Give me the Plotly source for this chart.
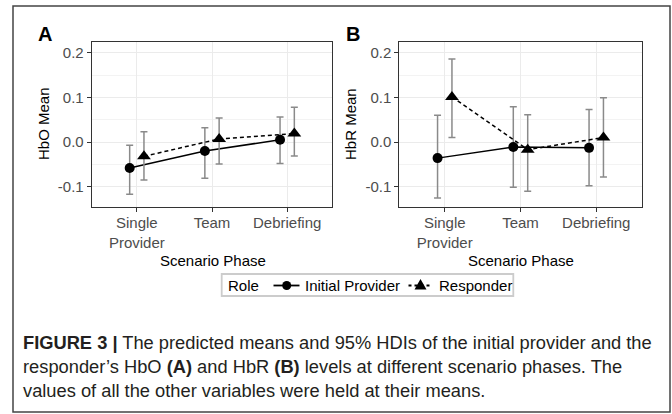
import plotly.graph_objects as go

# ---------------- data ----------------
phases = ["Single<br>Provider", "Team", "Debriefing"]
roles = ["Initial Provider", "Responder"]

hbo_initial = [-0.058, -0.020, 0.005]
hbo_initial_lo = [-0.117, -0.081, -0.048]
hbo_initial_hi = [-0.007, 0.032, 0.056]
hbo_resp = [-0.032, 0.007, 0.019]
hbo_resp_lo = [-0.085, -0.049, -0.031]
hbo_resp_hi = [0.023, 0.054, 0.078]

hbr_initial = [-0.036, -0.011, -0.013]
hbr_initial_lo = [-0.125, -0.101, -0.098]
hbr_initial_hi = [0.060, 0.079, 0.073]
hbr_resp = [0.101, -0.017, 0.010]
hbr_resp_lo = [0.010, -0.110, -0.078]
hbr_resp_hi = [0.186, 0.061, 0.099]

y_ticks = [-0.1, 0.0, 0.1, 0.2]
y_ticktext = ["-0.1", "0.0", "0.1", "0.2"]

# ---------------- layout helpers ----------------
W, H = 672, 414
def px(x):
    return x / W
def py(y):
    return 1 - y / H

FONT = "Liberation Sans, Arial, sans-serif"
CAPFONT = "Liberation Sans, Arial, sans-serif"
dodge = 0.095
base_x = list(range(1, len(phases) + 1))

fig = go.Figure()

def add_series(xaxis, yaxis, yvals, lo, hi, role_idx):
    off = -dodge if role_idx == 0 else dodge
    xs = [b + off for b in base_x]
    fig.add_trace(go.Scatter(
        x=xs, y=yvals, xaxis=xaxis, yaxis=yaxis,
        mode="lines+markers", name=roles[role_idx], showlegend=False,
        line=dict(color="black", width=1.5,
                  dash="solid" if role_idx == 0 else "4px,3px"),
        marker=dict(symbol="circle" if role_idx == 0 else "triangle-up",
                    size=10 if role_idx == 0 else 12, color="black"),
        error_y=dict(type="data", symmetric=False,
                     array=[h - v for h, v in zip(hi, yvals)],
                     arrayminus=[v - l for v, l in zip(yvals, lo)],
                     color="#8a8a8a", thickness=1.5, width=3.5),
    ))

add_series("x", "y", hbo_initial, hbo_initial_lo, hbo_initial_hi, 0)
add_series("x", "y", hbo_resp, hbo_resp_lo, hbo_resp_hi, 1)
add_series("x2", "y2", hbr_initial, hbr_initial_lo, hbr_initial_hi, 0)
add_series("x2", "y2", hbr_resp, hbr_resp_lo, hbr_resp_hi, 1)

yrange = [-0.1454, 0.2246]
ydom = [py(207), py(41.7)]

def xaxis_cfg(dom, anchor):
    return dict(domain=dom, anchor=anchor, range=[0.4, 3.6],
                tickvals=base_x, ticktext=phases,
                showgrid=True, gridcolor="#EBEBEB", gridwidth=1.1,
                showline=True, linecolor="#333333", linewidth=1, mirror=True,
                ticks="outside", ticklen=4, tickcolor="#333333", tickwidth=1,
                ticklabelstandoff=-2,
                tickfont=dict(family=FONT, size=15, color="#4D4D4D"),
                zeroline=False, fixedrange=True)

def yaxis_cfg(anchor):
    return dict(domain=ydom, anchor=anchor, range=yrange,
                tickvals=y_ticks, ticktext=y_ticktext,
                showgrid=True, gridcolor="#EBEBEB", gridwidth=1.1,
                minor=dict(tickvals=[-0.05, 0.05, 0.15], showgrid=True,
                           gridcolor="#F3F3F3", gridwidth=0.6, ticks=""),
                showline=True, linecolor="#333333", linewidth=1, mirror=True,
                ticks="outside", ticklen=4, tickcolor="#333333", tickwidth=1,
                tickfont=dict(family=FONT, size=15, color="#4D4D4D"),
                zeroline=False, fixedrange=True)

annotations = []
# panel labels
annotations.append(dict(text="<b>A</b>", x=px(36), y=py(34), xref="paper", yref="paper",
                        xanchor="left", yanchor="middle", showarrow=False,
                        font=dict(family=FONT, size=20, color="black")))
annotations.append(dict(text="<b>B</b>", x=px(344), y=py(34), xref="paper", yref="paper",
                        xanchor="left", yanchor="middle", showarrow=False,
                        font=dict(family=FONT, size=20, color="black")))
# axis titles
for xc, txt in [(43, "HbO Mean"), (350, "HbR Mean")]:
    annotations.append(dict(text=txt, x=px(xc), y=py(124), xref="paper", yref="paper",
                            xanchor="center", yanchor="middle", textangle=-90,
                            showarrow=False, font=dict(family=FONT, size=15, color="black")))
for xc in [212.5, 520.5]:
    annotations.append(dict(text="Scenario Phase", x=px(xc), y=py(260), xref="paper",
                            yref="paper", xanchor="center", yanchor="middle",
                            showarrow=False, font=dict(family=FONT, size=15, color="black")))

# ---------------- legend (drawn manually) ----------------
LEG_Y = 285.5
shapes = []
shapes.append(dict(type="rect", xref="paper", yref="paper", x0=px(221.7), x1=px(513.3),
                   y0=py(296), y1=py(274), line=dict(color="#CCCCCC", width=1.8),
                   fillcolor="white", layer="above"))
annotations.append(dict(text="Role", x=px(226), y=py(LEG_Y), xref="paper", yref="paper",
                        xanchor="left", yanchor="middle", showarrow=False,
                        font=dict(family=FONT, size=15, color="black")))
# Initial provider key
shapes.append(dict(type="line", xref="paper", yref="paper", x0=px(273.5), x1=px(299.5),
                   y0=py(LEG_Y), y1=py(LEG_Y), line=dict(color="black", width=1.8),
                   layer="above"))
shapes.append(dict(type="circle", xref="paper", yref="paper", x0=px(282.2), x1=px(291.2),
                   y0=py(LEG_Y + 4.5), y1=py(LEG_Y - 4.5), fillcolor="black",
                   line=dict(color="black", width=0), layer="above"))
annotations.append(dict(text=roles[0], x=px(302.5), y=py(LEG_Y), xref="paper", yref="paper",
                        xanchor="left", yanchor="middle", showarrow=False,
                        font=dict(family=FONT, size=15, color="black")))
# Responder key
shapes.append(dict(type="line", xref="paper", yref="paper", x0=px(408.5), x1=px(432.5),
                   y0=py(LEG_Y), y1=py(LEG_Y), line=dict(color="black", width=1.8, dash="3px,3px"),
                   layer="above"))
tcx, tcy = 420.5, LEG_Y - 0.5
tri = "M {},{} L {},{} L {},{} Z".format(px(tcx - 6), py(tcy + 4.5), px(tcx + 6), py(tcy + 4.5),
                                        px(tcx), py(tcy - 6))
shapes.append(dict(type="path", xref="paper", yref="paper", path=tri, fillcolor="black",
                   line=dict(color="black", width=0), layer="above"))
annotations.append(dict(text=roles[1], x=px(436.5), y=py(LEG_Y), xref="paper", yref="paper",
                        xanchor="left", yanchor="middle", showarrow=False,
                        font=dict(family=FONT, size=15, color="black")))

# caption
cap_lines = [
    "<b>FIGURE 3 |</b> The predicted means and 95% HDIs of the initial provider and the",
    "responder\u2019s HbO <b>(A)</b> and HbR <b>(B)</b> levels at different scenario phases. The",
    "values of all the other variables were held at their means.",
]
for i, line in enumerate(cap_lines):
    annotations.append(dict(text=line, x=px(21), y=py(342 + 24 * i), xref="paper",
                            yref="paper", xanchor="left", yanchor="middle",
                            showarrow=False, font=dict(family=CAPFONT, size=18.3, color="#231F20")))

shapes.append(dict(type="rect", xref="paper", yref="paper", x0=px(13), x1=px(670),
                   y0=py(412), y1=py(6), line=dict(color="#444444", width=1.5),
                   fillcolor="rgba(0,0,0,0)", layer="below"))

fig.update_layout(
    width=W, height=H, margin=dict(l=0, r=0, t=0, b=0),
    paper_bgcolor="white", plot_bgcolor="white",
    xaxis=xaxis_cfg([px(91.7), px(332.3)], "y"),
    yaxis=yaxis_cfg("x"),
    xaxis2=xaxis_cfg([px(399.3), px(641.7)], "y2"),
    yaxis2=yaxis_cfg("x2"),
    showlegend=False,
    annotations=annotations, shapes=shapes,
)

fig.write_html("out.html")
